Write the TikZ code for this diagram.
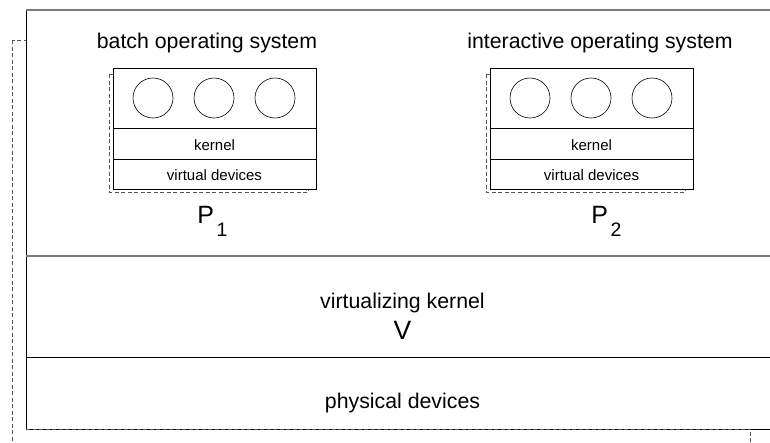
\documentclass[tikz,border=0pt]{standalone}
\usepackage{fontspec}
\setmainfont{Liberation Sans}
\tikzset{>=latex}
\definecolor{edgegrey}{HTML}{7A7A7A}
\definecolor{shadowgrey}{HTML}{555555}
\tikzset{
  biglabel/.style={font=\fontsize{21.3}{25}\selectfont, inner sep=0pt},
  smalllabel/.style={font=\fontsize{15}{18}\selectfont, inner sep=0pt},
  namelabel/.style={font=\fontsize{25}{28}\selectfont, inner sep=0pt, anchor=base west},
  shadowline/.style={shadowgrey, dash pattern=on 4pt off 2.5pt, line width=0.8pt},
  proc/.style={circle, draw, line width=0.6pt, minimum size=40pt, inner sep=0pt},
}
\newcommand*{\lowsub}[1]{\kern2.5pt\raisebox{-13pt}{\fontsize{19.5}{20}\selectfont #1}}

\begin{document}
\begin{tikzpicture}[x=1pt, y=-1pt, line width=0.7pt]
            \useasboundingbox (0,0) rectangle (770,442);
            % real machine
            \draw[shadowline] (12,40) rectangle (750,470);
            \draw[fill=white] (26,10) rectangle (779,429);
            \draw[edgegrey, line width=1.3pt] (26,10) -- (779,10);
            \draw[edgegrey, line width=1.3pt] (26,256) -- (779,256);
            \draw (26,357) -- (779,357);
            \draw[shadowline] (26,429) -- (750,429);
            \node[biglabel] (vkern) at (402.5,303) {virtualizing kernel};
            \node[font=\fontsize{26.5}{30}\selectfont, inner sep=0pt] (vname) at (402.5,330.5) {V};
            \node[biglabel] (physdev) at (402.5,403) {physical devices};
            % virtual machine 1
            \node[biglabel] (batchlbl) at (207,43) {batch operating system};
            \draw[shadowline] (109,74) rectangle (308,192);
            \draw[fill=white] (113,68) rectangle (316,189);
            \draw (113,128) -- (316,128);
            \draw (113,159) -- (316,159);
            \node[proc] (proc1a) at (153,98) {};
            \node[proc] (proc1b) at (214,98) {};
            \node[proc] (proc1c) at (275,98) {};
            \node[smalllabel] (kern1) at (214.5,145) {kernel};
            \node[smalllabel] (vdev1) at (214.5,175) {virtual devices};
            \node[namelabel] (pname1) at (197,223) {P\lowsub{1}};
            % virtual machine 2
            \node[biglabel] (interlbl) at (600,43) {interactive operating system};
            \draw[shadowline] (486,74) rectangle (685,192);
            \draw[fill=white] (490,68) rectangle (693,189);
            \draw (490,128) -- (693,128);
            \draw (490,159) -- (693,159);
            \node[proc] (proc2a) at (530,98) {};
            \node[proc] (proc2b) at (591,98) {};
            \node[proc] (proc2c) at (652,98) {};
            \node[smalllabel] (kern2) at (591.5,145) {kernel};
            \node[smalllabel] (vdev2) at (591.5,175) {virtual devices};
            \node[namelabel] (pname2) at (591,223) {P\lowsub{2}};
        \end{tikzpicture}
\end{document}
